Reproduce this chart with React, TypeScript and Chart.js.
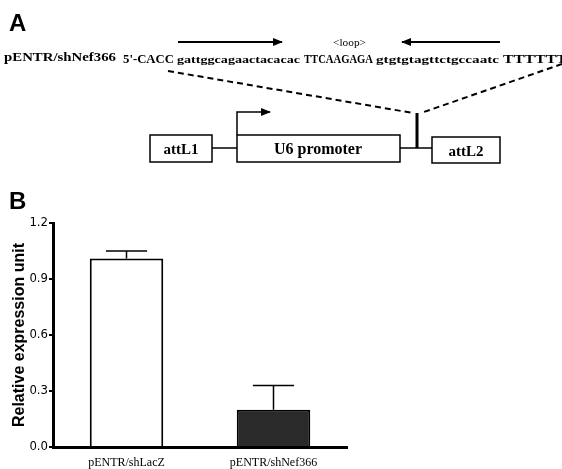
import React, { useEffect, useRef } from 'react';
import { Chart, registerables } from 'chart.js';

Chart.register(...registerables);

const categories = ['pENTR/shLacZ', 'pENTR/shNef366'];
const values = [1.01, 0.2];
const errors = [0.04, 0.13];
const yTicks = [0, 0.3, 0.6, 0.9, 1.2];
const barColors = ['#ffffff', '#2a2a2a'];

const errorBarPlugin = {
  id: 'errorBars',
  afterDatasetsDraw(chart: any) {
    const meta = chart.getDatasetMeta(0);
    const y = chart.scales.y;
    const ctx = chart.ctx;
    ctx.save();
    ctx.strokeStyle = '#000';
    ctx.lineWidth = 1.5;
    meta.data.forEach((bar: any, i: number) => {
      const top = y.getPixelForValue(values[i] + errors[i]);
      const x = bar.x;
      const capHalf = bar.width * 0.28;
      ctx.beginPath();
      ctx.moveTo(x, bar.y);
      ctx.lineTo(x, top);
      ctx.moveTo(x - capHalf, top);
      ctx.lineTo(x + capHalf, top);
      ctx.stroke();
    });
    ctx.restore();
  },
};

function PanelA() {
  const serif = 'Liberation Serif';
  return (
    <svg width={562} height={469} style={{ position: 'absolute', left: 0, top: 0 }}>
      <defs>
        <marker id="ah" markerUnits="userSpaceOnUse" markerWidth="10" markerHeight="8" refX="9" refY="4" orient="auto">
          <path d="M0,0 L10,4 L0,8 z" fill="#000" />
        </marker>
      </defs>
      <text x={9} y={31} fontFamily="Liberation Sans" fontWeight="bold" fontSize={24}>A</text>
      <line x1={178} y1={42} x2={282} y2={42} stroke="#000" strokeWidth={2} markerEnd="url(#ah)" />
      <text x={333} y={46} fontSize={11} fontFamily={serif} textLength={33} lengthAdjust="spacingAndGlyphs">&lt;loop&gt;</text>
      <line x1={500} y1={42} x2={402} y2={42} stroke="#000" strokeWidth={2} markerEnd="url(#ah)" />
      <text x={4} y={61} fontFamily={serif} fontWeight="bold" fontSize={13} textLength={112} lengthAdjust="spacingAndGlyphs">pENTR/shNef366</text>
      <text x={123} y={63} fontFamily={serif} fontWeight="bold" fontSize={13} textLength={51} lengthAdjust="spacingAndGlyphs">5'-CACC</text>
      <text x={177} y={63} fontFamily={serif} fontWeight="bold" fontSize={11} textLength={123} lengthAdjust="spacingAndGlyphs">gattggcagaactacacac</text>
      <text x={304} y={63} fontFamily={serif} fontWeight="bold" fontSize={12} textLength={69} lengthAdjust="spacingAndGlyphs">TTCAAGAGA</text>
      <text x={376} y={63} fontFamily={serif} fontWeight="bold" fontSize={11} textLength={123} lengthAdjust="spacingAndGlyphs">gtgtgtagttctgccaatc</text>
      <text x={503} y={63} fontFamily={serif} fontWeight="bold" fontSize={13} textLength={64} lengthAdjust="spacingAndGlyphs">TTTTTT</text>
      <line x1={168} y1={71} x2={413} y2={113} stroke="#000" strokeWidth={2} strokeDasharray="6,4" />
      <line x1={562} y1={64} x2={421} y2={113} stroke="#000" strokeWidth={2} strokeDasharray="6,4" />
      <line x1={417} y1={113} x2={417} y2={148} stroke="#000" strokeWidth={3} />
      <rect x={150} y={135} width={62} height={27} fill="#fff" stroke="#000" strokeWidth={1.5} />
      <text x={181} y={154} textAnchor="middle" fontFamily={serif} fontWeight="bold" fontSize={15}>attL1</text>
      <line x1={212} y1={148} x2={237} y2={148} stroke="#000" strokeWidth={1.5} />
      <rect x={237} y={135} width={163} height={27} fill="#fff" stroke="#000" strokeWidth={1.5} />
      <text x={318} y={154} textAnchor="middle" fontFamily={serif} fontWeight="bold" fontSize={16}>U6 promoter</text>
      <line x1={400} y1={148} x2={432} y2={148} stroke="#000" strokeWidth={1.5} />
      <rect x={432} y={137} width={68} height={26} fill="#fff" stroke="#000" strokeWidth={1.5} />
      <text x={466} y={156} textAnchor="middle" fontFamily={serif} fontWeight="bold" fontSize={15}>attL2</text>
      <polyline points="237,135 237,112 270,112" fill="none" stroke="#000" strokeWidth={1.5} markerEnd="url(#ah)" />
      <text x={9} y={209} fontFamily="Liberation Sans" fontWeight="bold" fontSize={24}>B</text>
    </svg>
  );
}

export default function App() {
  const ref = useRef<HTMLCanvasElement | null>(null);
  useEffect(() => {
    if (!ref.current) return;
    const chart = new Chart(ref.current, {
      type: 'bar',
      data: {
        labels: categories,
        datasets: [
          {
            data: values,
            backgroundColor: barColors,
            borderColor: '#000',
            borderWidth: 2,
            categoryPercentage: 1,
            barPercentage: 0.5,
          },
        ],
      },
      options: {
        animation: false,
        responsive: false,
        maintainAspectRatio: false,
        layout: { padding: { top: 223, left: 0, right: 215, bottom: 0 } },
        plugins: { legend: { display: false }, tooltip: { enabled: false } },
        scales: {
          x: {
            grid: { display: false, drawTicks: false },
            border: { color: '#000', width: 3 },
            ticks: { color: '#000', font: { family: 'Liberation Serif', size: 12 }, padding: 9 },
            afterFit(s: any) { s.height = 22; },
          },
          y: {
            min: 0,
            max: 1.2,
            afterBuildTicks(s: any) { s.ticks = yTicks.map((v) => ({ value: v })); },
            ticks: {
              color: '#000',
              font: { family: "'Liberation Sans Narrow', 'DejaVu Sans Condensed', sans-serif", size: 13 },
              padding: 1,
              callback: (v: any) => Number(v).toFixed(1),
            },
            grid: { drawOnChartArea: false, color: '#000', lineWidth: 2, tickLength: 4 },
            border: { color: '#000', width: 3 },
            title: {
              display: true,
              text: 'Relative expression unit',
              color: '#000',
              font: { family: 'Liberation Sans', size: 16, weight: 'bold' },
              padding: { top: 10, bottom: 0 },
            },
            afterFit(s: any) { s.width = 53; },
          },
        },
      },
      plugins: [errorBarPlugin],
    } as any);
    return () => chart.destroy();
  }, []);
  return (
    <div style={{ position: 'absolute', left: 0, top: 0, width: 562, height: 469, background: '#fff' }}>
      <canvas ref={ref} width={562} height={469} style={{ position: 'absolute', left: 0, top: 0 }} />
      <PanelA />
    </div>
  );
}
